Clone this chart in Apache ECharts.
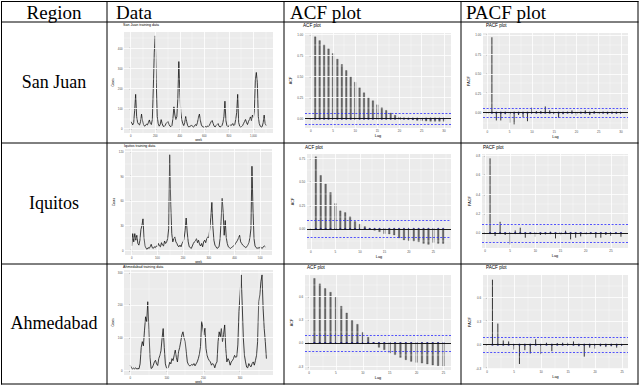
<!DOCTYPE html>
<html><head><meta charset="utf-8">
<script src="https://cdn.jsdelivr.net/npm/echarts@6/dist/echarts.min.js"></script>
<style>html,body{margin:0;padding:0;background:#fff;}#c{width:640px;height:385px;}</style>
</head><body><div id="c"></div>
<script>
// ---------------- DATA ----------------
const headerLabels = ['Region', 'Data', 'ACF plot', 'PACF plot'];
const regionNames = ['San Juan', 'Iquitos', 'Ahmedabad'];
const dataTitles = ['San Juan training data', 'Iquitos training data', 'Ahmedabad training data'];

const sanJuanWeekStep = 8;
const sanJuanCases = [35,28,18,30,90,170,60,30,22,18,35,72,40,20,12,15,22,18,30,43,25,20,45,200,380,461,230,60,25,12,
  20,45,25,12,10,15,25,30,35,20,12,10,15,50,108,67,45,60,150,333,180,84,45,25,15,30,60,35,15,8,
  10,12,18,10,8,12,20,15,30,55,72,40,18,10,8,6,10,8,12,10,15,25,35,40,25,12,8,15,20,25,
  12,8,10,15,30,60,136,40,15,10,12,20,15,18,25,15,20,45,80,170,30,12,8,10,15,25,35,46,30,20,
  35,45,58,40,67,55,90,240,279,230,60,25,12,8,10,30,67,25,15];
const iquitosWeekStep = 4;
const iquitosCases = [5,20,10,20,12,18,8,6,12,25,30,38,15,5,2,1,3,2,4,7,3,2,4,3,5,4,8,5,4,9,
  6,5,11,8,10,14,26,116,55,20,10,14,16,10,8,5,4,6,4,8,10,14,24,39,22,10,4,3,2,5,
  8,10,11,14,9,12,7,5,8,4,10,12,9,14,16,15,26,40,58,28,12,6,4,2,3,4,14,35,63,46,
  18,36,15,8,4,3,2,3,4,5,6,8,10,12,15,18,10,8,6,5,4,3,4,6,9,15,26,102,50,14,
  5,3,2,3,2,4,3,2,4,5,4];
const ahmedabadWeekStep = 3;
const ahmedabadCases = [16,8,5,7,5,8,4,6,5,20,70,88,75,123,164,149,210,125,40,6,8,16,26,31,20,15,36,46,60,98,
  128,70,20,8,6,12,25,20,36,30,46,62,40,26,57,70,88,108,118,100,88,57,26,18,14,15,18,16,21,14,
  20,26,36,50,73,149,133,108,129,67,46,36,30,26,16,21,18,8,20,26,88,118,103,128,88,110,139,67,26,36,
  30,16,26,30,36,46,40,42,78,180,231,292,200,98,46,26,10,8,21,14,11,21,26,16,30,46,88,210,231,271,
  292,190,128,88,36];

const sanJuanAcf = [0.97,0.925,0.874,0.827,0.772,0.705,0.642,0.571,0.50,0.433,0.366,0.307,0.252,0.213,0.165,
  0.13,0.098,0.067,0.04,0.02,0.008,-0.004,-0.012,-0.02,-0.024,-0.028,-0.03,-0.03,-0.03,-0.03];
const sanJuanPacf = [0.97,-0.10,-0.10,-0.02,-0.13,-0.15,-0.03,-0.056,-0.11,0.065,0.02,0.02,0.08,0.03,-0.02,
  -0.065,-0.02,0.01,0.03,-0.04,0.01,0.03,-0.03,0.02,-0.02,0.01,-0.02,0.01,-0.01,0.01];
const sanJuanBound = 0.064;
const iquitosAcf = [0.77,0.571,0.479,0.389,0.271,0.193,0.175,0.129,0.079,0.05,0.025,0.003,-0.014,-0.029,-0.05,
  -0.054,-0.064,-0.096,-0.118,-0.125,-0.129,-0.136,-0.154,-0.164,-0.143,-0.154,-0.154];
const iquitosPacf = [0.77,-0.03,0.116,-0.02,-0.116,0.027,0.055,-0.048,-0.007,-0.038,-0.02,-0.014,0.014,-0.055,-0.024,
  0.024,-0.065,-0.048,-0.034,-0.014,-0.007,-0.048,-0.048,-0.02,-0.03,-0.007,-0.038];
const iquitosBound = 0.086;
const ahmedabadAcf = [0.83,0.76,0.70,0.652,0.588,0.472,0.386,0.288,0.24,0.137,0.073,0.002,-0.056,-0.086,-0.129,
  -0.15,-0.185,-0.215,-0.236,-0.249,-0.258,-0.27,-0.283,-0.292,-0.30];
const ahmedabadPacf = [0.83,0.27,0.054,0.042,-0.062,-0.246,-0.07,-0.112,0.07,-0.12,0.025,-0.083,0.02,0.025,0.025,
  0.042,-0.02,-0.154,-0.037,-0.05,-0.02,-0.03,-0.02,-0.037,-0.017];
const ahmedabadBound = 0.102;

// tick labels
const sanJuanWeekTicks = [0,200,400,600,800,1000];
const sanJuanCaseTicks = [0,100,200,300,400];
const iquitosWeekTicks = [0,100,200,300,400,500];
const iquitosCaseTicks = [0,30,60,90,120];
const ahmedabadWeekTicks = [0,100,200,300];
const ahmedabadCaseTicks = [0,100,200,300];
const lagTicks30 = [0,5,10,15,20,25,30];
const lagTicks25 = [0,5,10,15,20,25];
const sanJuanAcfTicks = [0,0.25,0.5,0.75,1];
const sanJuanPacfTicks = [0,0.25,0.5,0.75,1];
const iquitosAcfTicks = [0,0.25,0.5,0.75];
const iquitosPacfTicks = [0,0.2,0.4,0.6,0.8];
const ahmedabadAcfTicks = [-0.3,0,0.3,0.6];
const ahmedabadPacfTicks = [-0.3,0,0.3,0.6];

// ---------------- CHART ----------------
const SANS = 'Liberation Sans';
const SERIF = 'Liberation Serif';
const chart = echarts.init(document.getElementById('c'), null, {renderer: 'svg', width: 640, height: 385});
const option = {animation: false, backgroundColor: '#fff', title: [], grid: [], xAxis: [], yAxis: [], series: [], graphic: []};

function minorsOf(major, range) {
  const step = major[1] - major[0];
  const out = [];
  for (let v = major[0] - step / 2; v <= range[1]; v += step) {
    if (v >= range[0]) out.push(+v.toFixed(6));
  }
  return out;
}

function hLineSeries(gi, value, style, z) {
  option.series.push({type: 'line', xAxisIndex: gi, yAxisIndex: gi, data: [], silent: true, z: z,
    markLine: {silent: true, animation: false, symbol: ['none', 'none'], label: {show: false},
      emphasis: {disabled: true}, lineStyle: style, data: [{yAxis: value}]}});
}

function panel(p) {
  const gi = option.grid.length;
  option.grid.push({left: p.l, top: p.t, width: p.w, height: p.h, show: true, backgroundColor: '#EBEBEB', borderWidth: 0});
  const tick = {show: true, length: 1.2, lineStyle: {color: '#333', width: 0.4}};
  option.xAxis.push({
    type: 'value', gridIndex: gi, min: p.xr[0], max: p.xr[1],
    name: p.xName, nameLocation: 'middle', nameGap: p.xGap,
    nameTextStyle: {fontSize: p.nameFs, color: '#000', fontFamily: SANS},
    axisLine: {show: false}, splitLine: {show: false},
    axisTick: Object.assign({customValues: p.xMajor}, tick),
    axisLabel: {customValues: p.xMajor, fontSize: p.tickFs, color: '#4D4D4D', margin: p.xMargin, fontFamily: SANS}
  });
  option.yAxis.push({
    type: 'value', gridIndex: gi, min: p.yr[0], max: p.yr[1],
    name: p.yName, nameLocation: 'middle', nameGap: p.yGap,
    nameTextStyle: {fontSize: p.nameFs, color: '#000', fontFamily: SANS},
    axisLine: {show: false}, splitLine: {show: false},
    axisTick: Object.assign({customValues: p.yMajor}, tick),
    axisLabel: {customValues: p.yMajor, fontSize: p.tickFs, color: '#4D4D4D', margin: p.yMargin, fontFamily: SANS,
      formatter: v => p.dec ? Number(v).toFixed(p.dec) : String(Math.round(v))}
  });
  const ml = [];
  minorsOf(p.xMajor, p.xr).forEach(v => ml.push({xAxis: v, lineStyle: {width: 0.35}}));
  minorsOf(p.yMajor, p.yr).forEach(v => ml.push({yAxis: v, lineStyle: {width: 0.35}}));
  p.xMajor.forEach(v => ml.push({xAxis: v, lineStyle: {width: 0.8}}));
  p.yMajor.forEach(v => ml.push({yAxis: v, lineStyle: {width: 0.8}}));
  option.series.push({type: 'line', xAxisIndex: gi, yAxisIndex: gi, data: [], silent: true, z: 1,
    markLine: {silent: true, animation: false, symbol: ['none', 'none'], label: {show: false},
      lineStyle: {color: '#fff', type: 'solid'}, emphasis: {disabled: true}, data: ml}});
  option.title.push({text: p.title, left: p.tl, top: p.tt, padding: 0,
    textStyle: {fontSize: p.titleFs, fontWeight: 'normal', color: '#000', fontFamily: SANS}});
  return gi;
}

function tsPanel(p, values, step) {
  const gi = panel(Object.assign({xName: 'week', yName: 'Cases', tickFs: 2.8, nameFs: 2.9, titleFs: 3.6,
    xMargin: 1.2, xGap: 4.8, yMargin: 1.5, yGap: 7, dec: 0}, p));
  option.series.push({type: 'line', xAxisIndex: gi, yAxisIndex: gi, z: 3, symbol: 'none', showSymbol: false,
    silent: true, lineStyle: {color: '#111', width: 0.8},
    data: values.map((v, i) => [i * step, v])});
}

function corrPanel(p, values, bound, isPacf) {
  const gi = panel(Object.assign({xName: 'Lag', yName: isPacf ? 'PACF' : 'ACF', tickFs: 3, nameFs: 3.8, titleFs: 4.6,
    xMargin: 1.5, xGap: 6, yMargin: 1.8, yGap: 8.5}, p));
  option.series.push({type: 'custom', xAxisIndex: gi, yAxisIndex: gi, z: 2, silent: true,
    data: values.map((v, i) => [i + 1, v]),
    renderItem: (params, api) => {
      const a = api.coord([api.value(0), 0]);
      const b = api.coord([api.value(0), api.value(1)]);
      if (isPacf) {
        return {type: 'line', shape: {x1: a[0], y1: a[1], x2: b[0], y2: b[1]},
          style: {stroke: '#1e1e1e', lineWidth: 0.9}};
      }
      return {type: 'rect', shape: {x: a[0] - 0.8, y: Math.min(a[1], b[1]), width: 1.6, height: Math.abs(b[1] - a[1])},
        style: {fill: '#6a6a6a', stroke: '#2e2e2e', lineWidth: 0.25}};
    }});
  hLineSeries(gi, 0, {color: '#000', width: 0.9, type: 'solid'}, 3);
  hLineSeries(gi, bound, {color: '#2a2aff', width: 0.8, type: [2, 1.6]}, 3);
  hLineSeries(gi, -bound, {color: '#2a2aff', width: 0.8, type: [2, 1.6]}, 3);
  option.series.push({type: 'scatter', xAxisIndex: gi, yAxisIndex: gi, z: 4, silent: true, symbolSize: 2.2,
    itemStyle: {color: '#15158f'}, data: values.map((v, i) => [i + 1, 0])});
}

// Data column
tsPanel({l: 124, t: 32, w: 149, h: 101, xr: [-55, 1160], yr: [-22, 480], xMajor: sanJuanWeekTicks, yMajor: sanJuanCaseTicks,
  title: dataTitles[0], tl: 123, tt: 23}, sanJuanCases, sanJuanWeekStep);
tsPanel({l: 125, t: 149, w: 147, h: 106, xr: [-26, 546], yr: [-6, 123], xMajor: iquitosWeekTicks, yMajor: iquitosCaseTicks,
  title: dataTitles[1], tl: 124, tt: 144}, iquitosCases, iquitosWeekStep);
tsPanel({l: 124, t: 270, w: 149, h: 105, xr: [-17, 390], yr: [-14, 307], xMajor: ahmedabadWeekTicks, yMajor: ahmedabadCaseTicks,
  title: dataTitles[2], tl: 123, tt: 265}, ahmedabadCases, ahmedabadWeekStep);

// ACF column
corrPanel({l: 305, t: 33, w: 146, h: 95, xr: [-1.3, 31.6], yr: [-0.11, 1.015], xMajor: lagTicks30, yMajor: sanJuanAcfTicks,
  dec: 2, title: 'ACF plot', tl: 303, tt: 23}, sanJuanAcf, sanJuanBound, false);
corrPanel({l: 307, t: 154, w: 144, h: 95, xr: [-0.8, 28.6], yr: [-0.214, 0.80], xMajor: lagTicks25, yMajor: iquitosAcfTicks,
  dec: 2, title: 'ACF plot', tl: 305, tt: 145}, iquitosAcf, iquitosBound, false);
corrPanel({l: 305, t: 275, w: 146, h: 95, xr: [-0.75, 26.4], yr: [-0.347, 0.874], xMajor: lagTicks25, yMajor: ahmedabadAcfTicks,
  dec: 1, title: 'ACF plot', tl: 307, tt: 265}, ahmedabadAcf, ahmedabadBound, false);

// PACF column
corrPanel({l: 483, t: 33, w: 145, h: 96, xr: [-1.0, 31.6], yr: [-0.21, 1.025], xMajor: lagTicks30, yMajor: sanJuanPacfTicks,
  dec: 2, title: 'PACF plot', tl: 486, tt: 23}, sanJuanPacf, sanJuanBound, true);
corrPanel({l: 482, t: 154, w: 146, h: 94, xr: [-0.6, 28.4], yr: [-0.154, 0.815], xMajor: lagTicks25, yMajor: iquitosPacfTicks,
  dec: 1, title: 'PACF plot', tl: 483, tt: 145}, iquitosPacf, iquitosBound, true);
corrPanel({l: 483, t: 275, w: 145, h: 94, xr: [-0.75, 26.1], yr: [-0.31, 0.89], xMajor: lagTicks25, yMajor: ahmedabadPacfTicks,
  dec: 1, title: 'PACF plot', tl: 486, tt: 265}, ahmedabadPacf, ahmedabadBound, true);

// Table rules and texts
const hLines = [1.5, 22, 143, 264, 384];
const vLines = [1.5, 107, 284, 461, 638];
hLines.forEach(y => option.graphic.push({type: 'line', z: 100, silent: true,
  shape: {x1: 1, y1: y, x2: 638.5, y2: y}, style: {stroke: '#000', lineWidth: 1}}));
vLines.forEach(x => option.graphic.push({type: 'line', z: 100, silent: true,
  shape: {x1: x, y1: 1, x2: x, y2: 384.5}, style: {stroke: '#000', lineWidth: 1}}));
const headerX = [54, 116, 290, 466];
const headerAlign = ['center', 'left', 'left', 'left'];
headerLabels.forEach((t, i) => option.graphic.push({type: 'text', z: 100, silent: true, x: headerX[i], y: 12,
  style: {text: t, fontSize: 19, fontFamily: SERIF, fill: '#000', align: headerAlign[i], verticalAlign: 'middle',
    textAlign: headerAlign[i], textVerticalAlign: 'middle'}}));
const rowY = [82, 203, 323];
regionNames.forEach((t, i) => option.graphic.push({type: 'text', z: 100, silent: true, x: 54, y: rowY[i],
  style: {text: t, fontSize: 18, fontFamily: SERIF, fill: '#000', align: 'center', verticalAlign: 'middle',
    textAlign: 'center', textVerticalAlign: 'middle'}}));

chart.setOption(option);
</script>
</body></html>
